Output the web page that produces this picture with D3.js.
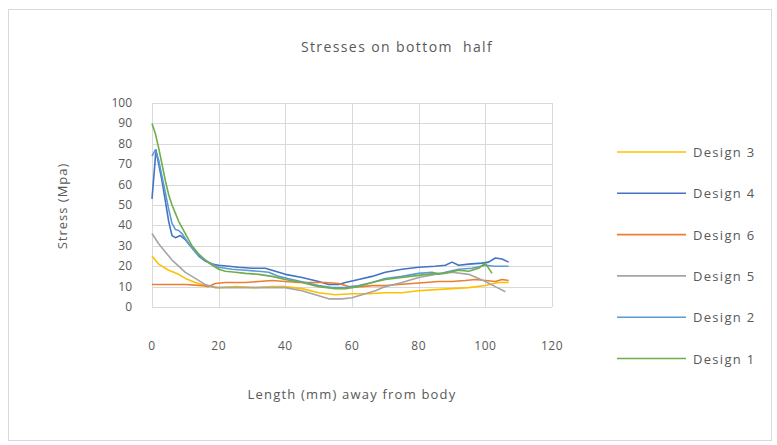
<!DOCTYPE html>
<html>
<head>
<meta charset="utf-8">
<script src="https://cdn.jsdelivr.net/npm/d3@7"></script>
<style>
  body { margin: 0; background: #fff; }
  text { font-family: "Open Sans", "Liberation Sans", sans-serif; fill: #595959; }
</style>
</head>
<body>
<svg id="chart" width="777" height="445"></svg>
<script>
// series names in legend order
const seriesNames = ['Design 3', 'Design 4', 'Design 6', 'Design 5', 'Design 2', 'Design 1'];
const seriesColors = ['#FFC000', '#4472C4', '#ED7D31', '#A5A5A5', '#5B9BD5', '#70AD47'];

// x (mm) and stress (MPa)
const design3X = [0, 2, 5, 8, 10, 13, 16, 18, 20, 25, 31, 36, 40, 45, 50, 55, 60, 65, 70, 75, 80, 85, 90, 95, 100, 104, 107];
const design3Y = [25, 21, 18, 16, 14, 12, 10.5, 10, 9.5, 10, 9.5, 10, 10, 9, 7, 6, 6.5, 6.5, 7, 7, 8, 8.5, 9, 9.5, 10.5, 12, 12];

const design4X = [0, 1.2, 2, 3, 4, 5, 6, 7, 8.5, 10, 12, 14, 16, 18, 20, 23, 26, 30, 34, 36, 40, 45, 50, 53, 56, 58, 62, 66, 70, 75, 80, 85, 88, 90, 92, 95, 99, 101, 103, 105, 107];
const design4Y = [53, 77, 70, 62, 52, 42, 35, 34, 35, 33, 29, 25, 22.5, 21, 20.5, 20, 19.5, 19, 19, 18, 16, 14.5, 12.5, 11, 11, 12, 13.5, 15, 17, 18.5, 19.5, 20, 20.5, 22, 20.5, 21, 21.5, 22, 24, 23.5, 22];

const design6X = [0, 5, 10, 15, 17, 19, 22, 28, 32, 36, 40, 44, 48, 52, 56, 59, 63, 66, 70, 74, 78, 82, 86, 90, 94, 97, 100, 103, 105, 107];
const design6Y = [11, 11, 11, 10.5, 10, 11.5, 12, 12, 12.5, 13, 12.5, 12, 12, 12, 11.5, 10, 10, 10.5, 10.5, 11, 11.5, 12, 12.5, 12.5, 13, 13.5, 13, 12.5, 13.5, 13];

const design5X = [0, 2, 4, 6, 8, 10, 13, 16, 19, 22, 30, 40, 45, 50, 53, 57, 60, 63, 67, 70, 75, 80, 85, 90, 95, 98, 100, 103, 106];
const design5Y = [36, 31, 27, 23, 20, 17, 14, 11, 9.5, 9.5, 9.5, 9.5, 8, 5.5, 4, 4, 4.5, 6, 8, 10, 12, 14.5, 16, 17, 16, 14, 12.5, 10, 7.5];

const design2X = [0, 1, 2, 3, 4, 5, 6, 7, 8, 9, 11, 13, 15, 17, 20, 24, 28, 32, 35, 38, 42, 46, 50, 54, 58, 62, 66, 70, 75, 80, 84, 86, 88, 92, 96, 100, 103, 107];
const design2Y = [74, 77, 72, 64, 56, 48, 41, 38, 37.5, 36, 31, 27, 24, 22, 19.5, 18.5, 18, 17.5, 17, 15, 13.5, 12, 10.5, 9.5, 9.5, 10.5, 12, 14, 15, 16.5, 17, 16, 17, 18.5, 19, 20.5, 20, 20];

const design1X = [0, 1, 2, 3, 4, 5, 6, 7, 8, 10, 12, 14, 16, 18, 20, 22, 25, 28, 32, 36, 40, 45, 50, 55, 58, 62, 66, 70, 75, 80, 85, 88, 92, 95, 98, 100, 102];
const design1Y = [90, 85, 78, 70, 62, 55, 50, 46, 42, 36, 30, 26, 23, 20.5, 18.5, 17.5, 17, 16.5, 16, 15, 13.5, 12, 10, 9, 9, 10, 12, 13.5, 14.5, 15.5, 16.5, 16.5, 18, 17.5, 19, 21.5, 16.5];

const seriesX = [design3X, design4X, design6X, design5X, design2X, design1X];
const seriesY = [design3Y, design4Y, design6Y, design5Y, design2Y, design1Y];

const xTicks = [0, 20, 40, 60, 80, 100, 120];
const yTicks = [0, 10, 20, 30, 40, 50, 60, 70, 80, 90, 100];

const svg = d3.select('#chart');

// chart frame
svg.append('rect')
  .attr('x', 8.5).attr('y', 9.5)
  .attr('width', 763).attr('height', 431)
  .attr('fill', '#fff')
  .attr('stroke', '#d9d9d9');

const x = d3.scaleLinear().domain([0, 120]).range([152, 552]);
const y = d3.scaleLinear().domain([0, 100]).range([307, 103]);

// gridlines
svg.append('g')
  .selectAll('line.h')
  .data(yTicks)
  .join('line')
  .attr('x1', x(0)).attr('x2', x(120))
  .attr('y1', d => Math.round(y(d)) + 0.5).attr('y2', d => Math.round(y(d)) + 0.5)
  .attr('stroke', '#d9d9d9');

svg.append('g')
  .selectAll('line.v')
  .data(xTicks)
  .join('line')
  .attr('y1', y(0)).attr('y2', y(100))
  .attr('x1', d => Math.round(x(d)) + 0.5).attr('x2', d => Math.round(x(d)) + 0.5)
  .attr('stroke', '#d9d9d9');

// tick labels
svg.append('g')
  .selectAll('text')
  .data(yTicks)
  .join('text')
  .attr('x', 132)
  .attr('y', d => y(d) + 4)
  .attr('text-anchor', 'end')
  .style('font-size', '12px')
  .text(d => d);

svg.append('g')
  .selectAll('text')
  .data(xTicks)
  .join('text')
  .attr('x', d => x(d))
  .attr('y', 350)
  .attr('text-anchor', 'middle')
  .style('font-size', '12px')
  .style('letter-spacing', '0.5px')
  .text(d => d);

// lines
const line = d3.line()
  .x(d => x(d[0]))
  .y(d => y(d[1]));

seriesNames.forEach((name, i) => {
  const pts = seriesX[i].map((v, j) => [v, seriesY[i][j]]);
  svg.append('path')
    .datum(pts)
    .attr('fill', 'none')
    .attr('stroke', seriesColors[i])
    .attr('stroke-width', 1.6)
    .attr('stroke-linejoin', 'round')
    .attr('d', line);
});

// titles
svg.append('text')
  .attr('x', 397).attr('y', 52)
  .attr('text-anchor', 'middle')
  .attr('xml:space', 'preserve')
  .style('font-size', '14px')
  .style('letter-spacing', '1.4px')
  .text('Stresses on bottom  half');

svg.append('text')
  .attr('x', 352).attr('y', 399)
  .attr('text-anchor', 'middle')
  .style('font-size', '13px')
  .style('letter-spacing', '1.2px')
  .text('Length (mm) away from body');

svg.append('text')
  .attr('transform', 'translate(67,206) rotate(-90)')
  .attr('text-anchor', 'middle')
  .style('font-size', '13px')
  .style('letter-spacing', '1px')
  .text('Stress (Mpa)');

// legend
const legend = svg.append('g');
seriesNames.forEach((name, i) => {
  const ly = 152 + i * 41.3;
  legend.append('line')
    .attr('x1', 617).attr('x2', 686)
    .attr('y1', ly).attr('y2', ly)
    .attr('stroke', seriesColors[i])
    .attr('stroke-width', 1.6);
  legend.append('text')
    .attr('x', 693).attr('y', ly + 5)
    .style('font-size', '13px')
    .style('letter-spacing', '1.3px')
    .text(name);
});
</script>
</body>
</html>
